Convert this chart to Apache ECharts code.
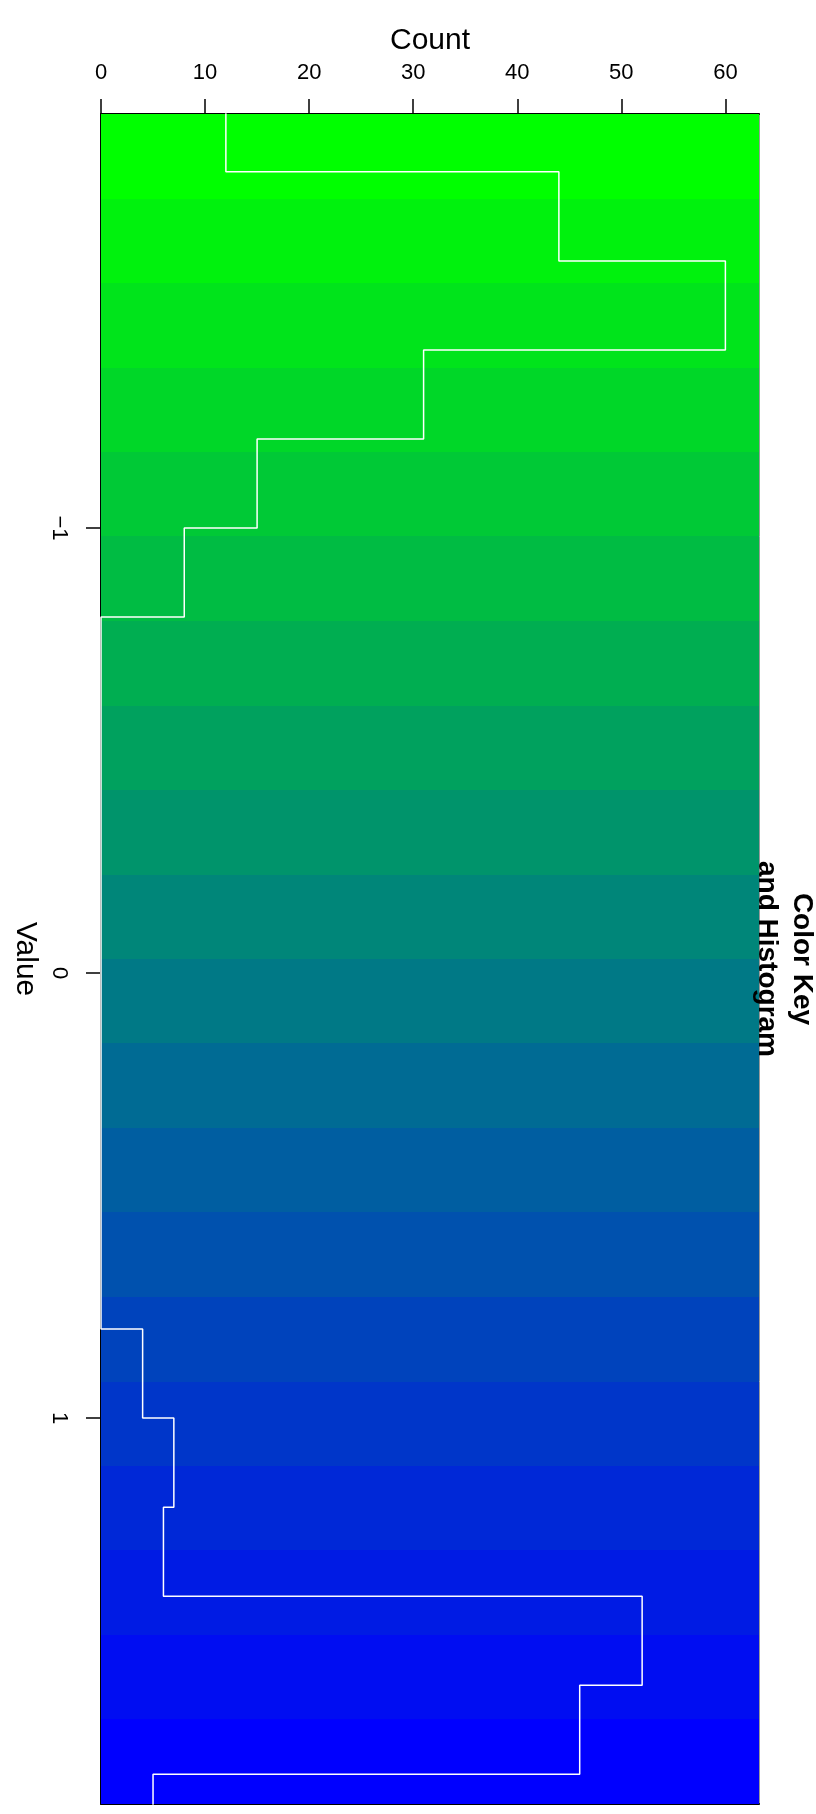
<!DOCTYPE html>
<html>
<head>
<meta charset="utf-8">
<script src="https://cdn.jsdelivr.net/npm/echarts@6/dist/echarts.min.js"></script>
<style>
html,body{margin:0;padding:0;background:#fff;}
#chart{width:816px;height:1814px;}
</style>
</head>
<body>
<div id="chart"></div>
<script>
// ---- data ----
const countTicks = [0, 10, 20, 30, 40, 50, 60];
const valueTicks = [-1, 0, 1];
const countMax = 63.23;
const valueMin = -1.930;
const valueMax = 1.867;
// colour key breaks (20 bands, green -> blue)
const keyBreaks = [-1.930, -1.740, -1.550, -1.360, -1.171, -0.981, -0.791, -0.601, -0.411, -0.221,
                   -0.032, 0.158, 0.348, 0.538, 0.728, 0.918, 1.107, 1.297, 1.487, 1.677, 1.867];
// histogram
const histBreaks = [-2.0, -1.8, -1.6, -1.4, -1.2, -1.0, -0.8, -0.6, -0.4, -0.2, 0.0,
                    0.2, 0.4, 0.6, 0.8, 1.0, 1.2, 1.4, 1.6, 1.8, 2.0];
const histCounts = [12, 44, 60, 31, 15, 8, 0, 0, 0, 0, 0, 0, 0, 0, 4, 7, 6, 52, 46, 5];
const colorLow = [0, 255, 0];
const colorHigh = [0, 0, 255];

// ---- derived ----
const nBands = keyBreaks.length - 1;
function bandColor(k) {
  const t = k / (nBands - 1);
  const c = colorLow.map((v, i) => Math.round(v + (colorHigh[i] - v) * t));
  return 'rgb(' + c.join(',') + ')';
}
const bandData = [];
for (let k = 0; k < nBands; k++) bandData.push([keyBreaks[k], keyBreaks[k + 1], k]);

const histLine = [];
for (let i = 0; i < histCounts.length; i++) {
  histLine.push([histCounts[i], histBreaks[i]]);
  histLine.push([histCounts[i], histBreaks[i + 1]]);
}

const FONT = '"Liberation Sans", Arial, Helvetica, sans-serif';
const chart = echarts.init(document.getElementById('chart'), null, {renderer: 'canvas'});
chart.setOption({
  animation: false,
  backgroundColor: '#ffffff',
  grid: {left: 101, top: 114, right: 57, bottom: 10, containLabel: false},
  xAxis: [{
    type: 'value', position: 'top', min: 0, max: countMax,
    name: 'Count', nameLocation: 'middle', nameGap: 58,
    nameTextStyle: {fontFamily: FONT, fontSize: 30, color: '#000'},
    axisLine: {show: true, onZero: false, lineStyle: {color: '#000', width: 2}},
    axisTick: {show: true, customValues: countTicks, length: 15, lineStyle: {color: '#000', width: 1.5}},
    axisLabel: {show: true, customValues: countTicks, fontFamily: FONT, fontSize: 22, color: '#000', margin: 30},
    splitLine: {show: false}
  }, {
    type: 'value', position: 'bottom', min: 0, max: countMax,
    axisLine: {show: true, onZero: false, lineStyle: {color: '#000', width: 2}},
    axisTick: {show: false}, axisLabel: {show: false}, splitLine: {show: false}
  }],
  yAxis: [{
    type: 'value', inverse: true, min: valueMin, max: valueMax, position: 'left',
    name: 'Value', nameLocation: 'middle', nameGap: 56, nameRotate: -90,
    nameTextStyle: {fontFamily: FONT, fontSize: 30, color: '#000'},
    axisLine: {show: true, onZero: false, lineStyle: {color: '#000', width: 2}},
    axisTick: {show: true, customValues: valueTicks, length: 15, lineStyle: {color: '#000', width: 1.5}},
    axisLabel: {show: true, customValues: valueTicks, rotate: -90, fontFamily: FONT, fontSize: 22, color: '#000', margin: 31,
      formatter: v => String(v).replace('-', '\u2212')},
    splitLine: {show: false}
  }, {
    type: 'value', inverse: true, min: valueMin, max: valueMax, position: 'right',
    axisLine: {show: true, onZero: false, lineStyle: {color: '#999', width: 1}},
    axisTick: {show: false}, axisLabel: {show: false}, splitLine: {show: false}
  }],
  series: [{
    type: 'custom',
    xAxisIndex: 0, yAxisIndex: 0,
    clip: true,
    silent: true,
    z: 1,
    encode: {y: [0, 1]},
    data: bandData,
    renderItem: function (params, api) {
      const cs = params.coordSys;
      const y0 = Math.round(api.coord([0, api.value(0)])[1]);
      const y1 = Math.round(api.coord([0, api.value(1)])[1]);
      return {
        type: 'rect',
        shape: {x: Math.floor(cs.x), y: Math.min(y0, y1), width: Math.ceil(cs.width) + 1, height: Math.abs(y1 - y0) + 1},
        style: {fill: bandColor(api.value(2)), stroke: null, lineWidth: 0}
      };
    }
  }, {
    type: 'line',
    xAxisIndex: 0, yAxisIndex: 0,
    data: histLine,
    showSymbol: false, symbol: 'none',
    clip: true,
    z: 3,
    lineStyle: {color: '#ffffff', width: 1.5}
  }],
  graphic: [{
    type: 'text',
    x: 784, y: 959,
    rotation: -Math.PI / 2,
    z: 100,
    style: {
      text: 'Color Key\nand Histogram',
      font: 'bold 28px ' + FONT,
      fill: '#000',
      align: 'center',
      verticalAlign: 'middle',
      lineHeight: 35
    }
  }]
});
</script>
</body>
</html>
